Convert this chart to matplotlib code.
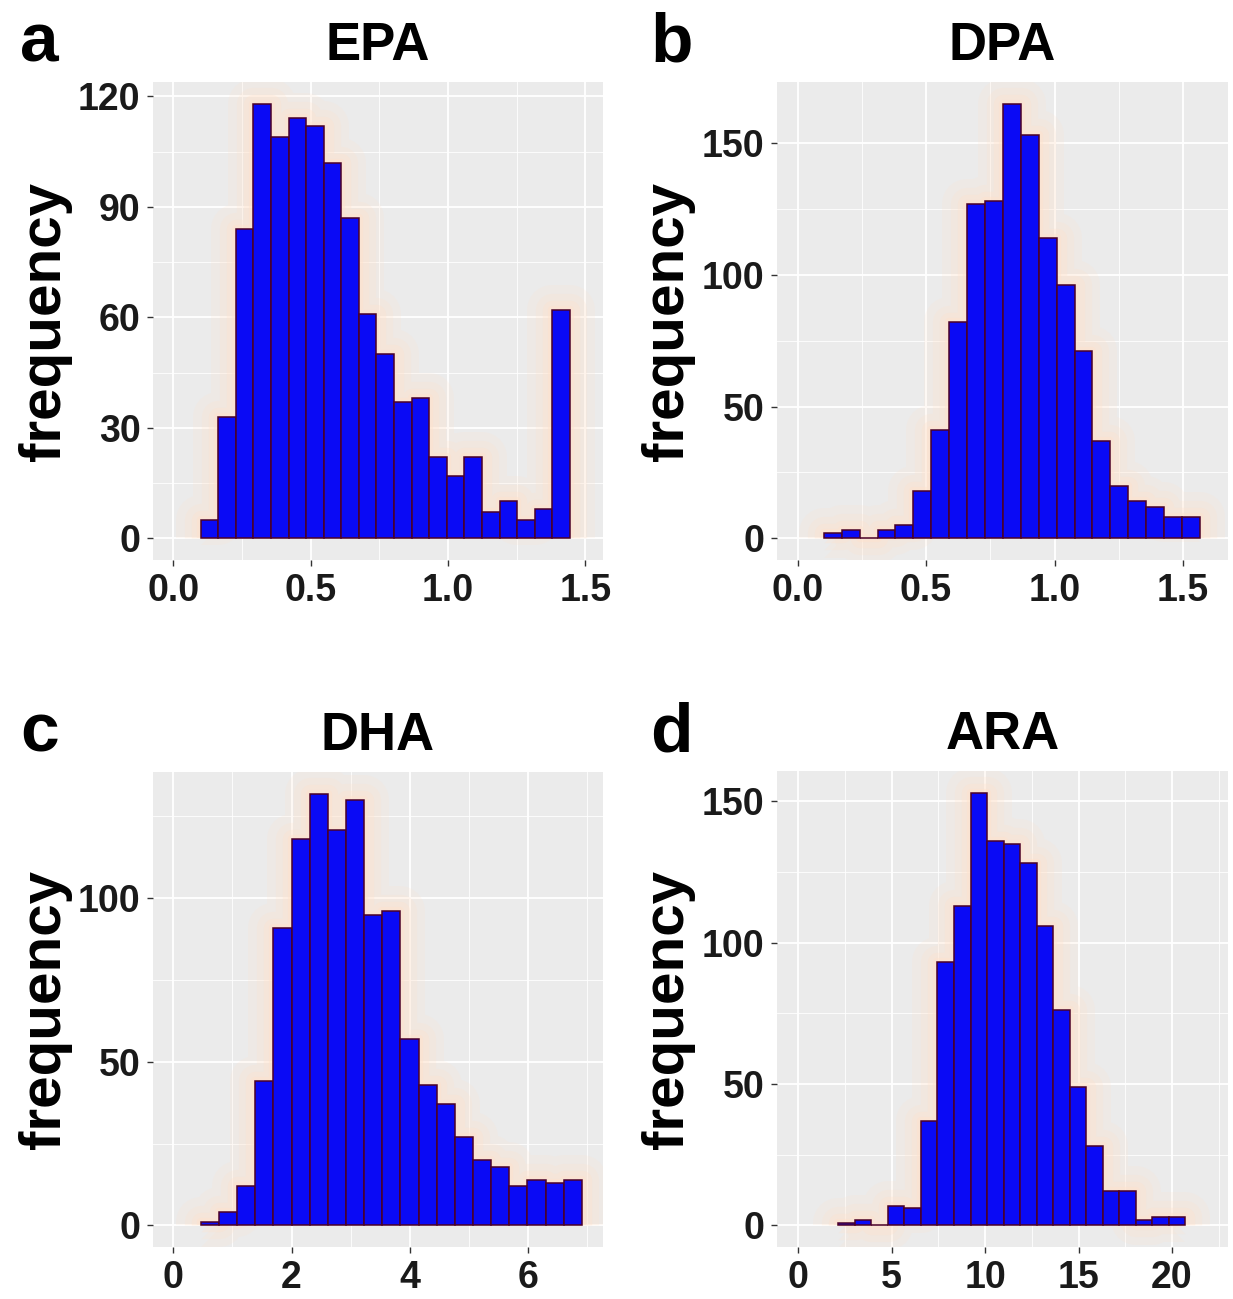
import matplotlib
matplotlib.use('Agg')
import matplotlib.pyplot as plt
from matplotlib.ticker import MultipleLocator, FormatStrFormatter
import numpy as np

W, H = 1233, 1299
DPI = 100

# counts in 21 equal-width bins for each fatty acid
epa_counts = [5, 33, 84, 118, 109, 114, 112, 102, 87, 61, 50, 37, 38, 22, 17, 22, 7, 10, 5, 8, 62]
epa_bins = (0.100, 0.064)          # first bin edge, bin width
dpa_counts = [2, 3, 0, 3, 5, 18, 41, 82, 127, 128, 165, 153, 114, 96, 71, 37, 20, 14, 12, 8, 8]
dpa_bins = (0.102, 0.0697)
dha_counts = [1, 4, 12, 44, 91, 118, 132, 121, 130, 95, 96, 57, 43, 37, 27, 20, 18, 12, 14, 13, 14]
dha_bins = (0.465, 0.307)
ara_counts = [1, 2, 0, 7, 6, 37, 93, 113, 153, 136, 135, 128, 106, 76, 49, 28, 12, 12, 2, 3, 3]
ara_bins = (2.14, 0.885)

titles = ['EPA', 'DPA', 'DHA', 'ARA']
letters = ['a', 'b', 'c', 'd']

FILL = '#0a0af5'
EDGE = '#4a0028'
HALO = '#ffe2cc'
PANEL_BG = '#ebebeb'
FONT = ['Liberation Sans', 'DejaVu Sans']

# pixel boxes (left, top, right, bottom) of each plotting panel
boxes = [(153, 82, 603, 560), (777, 82, 1228, 560),
         (153, 772, 603, 1247), (777, 771, 1228, 1247)]
xlims = [(-0.073, 1.564), (-0.08, 1.675), (-0.345, 7.27), (-1.14, 23.0)]
xmajor = [0.5, 0.5, 2, 5]
ymajor = [30, 50, 50, 50]
xfmt = ['%.1f', '%.1f', '%d', '%d']

panels = [(epa_counts, epa_bins), (dpa_counts, dpa_bins),
          (dha_counts, dha_bins), (ara_counts, ara_bins)]

fig = plt.figure(figsize=(W / DPI, H / DPI), dpi=DPI)
fig.patch.set_facecolor('white')


def rect(box):
    l, t, r, b = box
    return [l / W, 1 - b / H, (r - l) / W, (b - t) / H]


for i, (counts, (start, width)) in enumerate(panels):
    ax = fig.add_axes(rect(boxes[i]))
    ax.set_facecolor(PANEL_BG)
    counts = np.asarray(counts, dtype=float)
    edges = start + width * np.arange(len(counts) + 1)

    # soft warm halo around the histogram silhouette
    for lw, a in [(36, 0.18), (24, 0.22), (14, 0.3), (6, 0.45)]:
        ax.stairs(counts, edges, fill=True, facecolor=HALO, edgecolor=HALO,
                  alpha=a, linewidth=lw, joinstyle='round', zorder=1.5)
    ax.bar(edges[:-1], counts, width=width, align='edge', color=FILL,
           edgecolor=EDGE, linewidth=1.1, zorder=2)

    ymax = counts.max()
    ax.set_ylim(-0.05 * ymax, 1.05 * ymax)
    ax.set_xlim(*xlims[i])

    ax.xaxis.set_major_locator(MultipleLocator(xmajor[i]))
    ax.xaxis.set_minor_locator(MultipleLocator(xmajor[i] / 2))
    ax.yaxis.set_major_locator(MultipleLocator(ymajor[i]))
    ax.yaxis.set_minor_locator(MultipleLocator(ymajor[i] / 2))
    ax.xaxis.set_major_formatter(FormatStrFormatter(xfmt[i]))

    ax.set_axisbelow(True)
    ax.grid(which='major', color='white', linewidth=1.3)
    ax.grid(which='minor', color='white', linewidth=0.6)
    for s in ax.spines.values():
        s.set_visible(False)

    ax.tick_params(which='major', length=4, width=1.0, color='#333333',
                   pad=5, labelsize=27, labelcolor='#1a1a1a')
    ax.tick_params(which='minor', length=0)
    for lab in ax.get_xticklabels() + ax.get_yticklabels():
        lab.set_family(FONT)
        lab.set_fontweight('bold')

    l, t, r, b = boxes[i]
    # y-axis label centred on the panel
    lx = 45 if i % 2 == 0 else 668
    fig.text(lx / W, 1 - (t + b) / 2 / H, 'frequency', rotation=90,
             ha='center', va='center', fontsize=42, fontweight='bold',
             family=FONT)
    # panel title
    fig.text((l + r) / 2 / W, 1 - (t - 22) / H, titles[i], ha='center',
             va='baseline', fontsize=38, fontweight='bold', family=FONT)
    # panel letter
    lxl = 20 if i % 2 == 0 else 650
    fig.text(lxl / W, 1 - (t - 20) / H, letters[i], ha='left',
             va='baseline', fontsize=50, fontweight='bold', family=FONT)

fig.savefig('out.png', dpi=DPI)
